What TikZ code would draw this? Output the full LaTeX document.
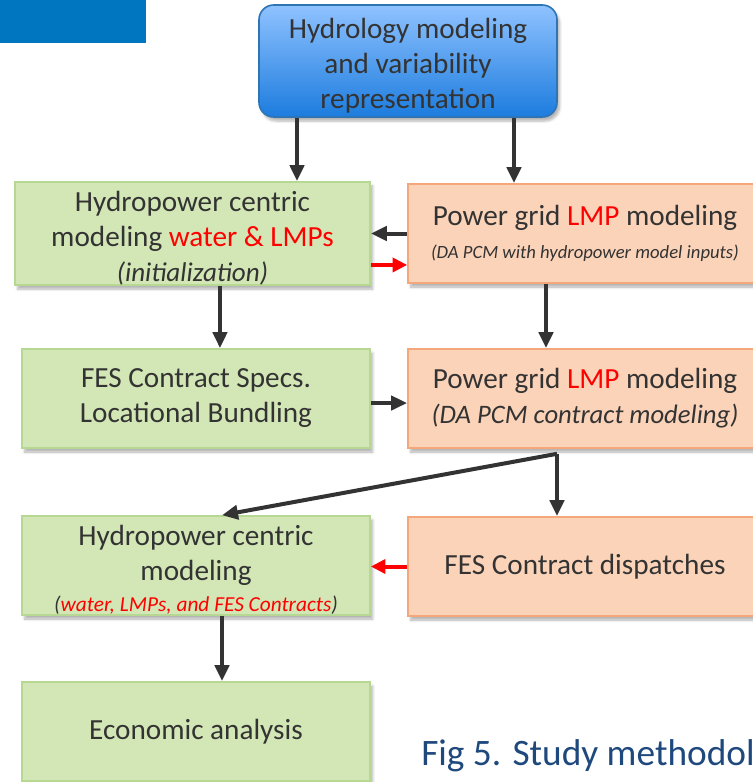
\documentclass[tikz,border=0pt]{standalone}
\usepackage{fontspec}
\setmainfont{Carlito}
\usetikzlibrary{arrows.meta,shadows.blur}

\definecolor{txt}{RGB}{51,51,51}
\definecolor{gfill}{RGB}{211,230,181}
\definecolor{gline}{RGB}{183,216,146}
\definecolor{ofill}{RGB}{251,211,184}
\definecolor{oline}{RGB}{244,167,122}
\definecolor{htop}{RGB}{143,194,255}
\definecolor{hbot}{RGB}{28,124,222}
\definecolor{hline}{RGB}{46,117,182}
\definecolor{tabblue}{RGB}{0,118,192}
\definecolor{capblue}{RGB}{31,73,125}
\definecolor{arrgray}{RGB}{51,51,51}
\definecolor{hot}{RGB}{255,0,0}

% pushes a first line down a little
\newcommand{\lowstrut}{\rule{0pt}{22pt}}

\tikzset{
  boxbase/.style={rectangle, inner sep=0pt, align=center, text=txt,
    font=\fontsize{21.9}{26.25}\selectfont,
    blur shadow={shadow xshift=2pt, shadow yshift=-3pt, shadow blur steps=6, shadow opacity=30}},
  gbox/.style={boxbase, fill=gfill, draw=gline, line width=1.2pt,
    minimum width=261pt, minimum height=74.25pt},
  obox/.style={boxbase, fill=ofill, draw=oline, line width=1.2pt,
    minimum width=265.5pt, minimum height=74.25pt},
  hbox/.style={boxbase, draw=hline, line width=1.2pt, rounded corners=11pt,
    top color=htop, bottom color=hbot,
    minimum width=223.5pt, minimum height=84pt},
  arr/.style={draw=arrgray, line width=3pt, -{Triangle[length=12pt,width=10.5pt]}},
  redarr/.style={draw=hot, line width=3pt, -{Triangle[length=11pt,width=10.5pt]}, color=hot},
}

\begin{document}
\begin{tikzpicture}[x=0.75pt,y=-0.75pt]
\useasboundingbox (0,0) rectangle (753,782);
\clip (0,0) rectangle (753,782);

% corner tab
\fill[tabblue] (0,0) rectangle (146,43);

% source box
\node[hbox] (hydro) at (408,61) {\lowstrut Hydrology modeling\\and variability\\representation};

% left column
\node[gbox, minimum width=266.25pt] (g1) at (192.5,233.5)
  {\lowstrut Hydropower centric\\modeling \textcolor{hot}{water \& LMPs}\\{\fontsize{20.3}{24}\selectfont\itshape (initialization)}};
\node[gbox] (g2) at (196,398.5) {FES Contract Specs.\\Locational Bundling};
\node[gbox] (g3) at (196,565.5)
  {\lowstrut Hydropower centric\\modeling\\[-3pt]{\fontsize{16}{18}\selectfont\itshape(\textcolor{hot}{water, LMPs, and FES Contracts})}};
\node[gbox] (g4) at (196,731.5) {Economic analysis};

% right column
\node[obox] (o1) at (585,233.5)
  {Power grid \textcolor{hot}{LMP} modeling\\[-2pt]{\fontsize{14}{16}\selectfont\itshape (DA PCM with hydropower model inputs)}};
\node[obox] (o2) at (585,398.5)
  {Power grid \textcolor{hot}{LMP} modeling\\{\fontsize{20}{24}\selectfont\itshape (DA PCM contract modeling)}};
\node[obox] (o3) at (585,566.5) {FES Contract dispatches};

% caption
\node[anchor=base west, inner sep=0pt, text=capblue,
      font=\fontsize{28}{32}\selectfont] (cap) at (421,765) {Fig 5. Study methodol};

% connectors
\draw[arr] ([xshift=-83.25pt]hydro.south) -- ([xshift=-83.25pt]hydro.south |- g1.north);
\draw[arr] ([xshift=79.5pt]hydro.south) -- ([xshift=79.5pt]hydro.south |- o1.north);

\draw[arr] (o1.west) -- (g1.east |- o1.west);
\draw[redarr] ([yshift=-23.6pt]g1.east) -- ([yshift=-23.6pt]g1.east -| o1.west);

\draw[arr] ([xshift=20.6pt]g1.south) -- ([xshift=20.6pt]g1.south |- g2.north);
\draw[arr] ([xshift=-29.25pt]o1.south) -- ([xshift=-29.25pt]o1.south |- o2.north);

\draw[arr] ([yshift=-3.4pt]g2.east) -- ([yshift=-3.4pt]g2.east -| o2.west);

\coordinate (split) at ([xshift=-21pt,yshift=-3.75pt]o2.south);
\draw[arr] (split) -- ([xshift=19.5pt]g3.north);
\draw[arr] (split) -- (split |- o3.north);

\draw[redarr] (o3.west) -- (g3.east |- o3.west);

\draw[arr] ([xshift=19.5pt]g3.south) -- ([xshift=19.5pt]g3.south |- g4.north);
\end{tikzpicture}
\end{document}
